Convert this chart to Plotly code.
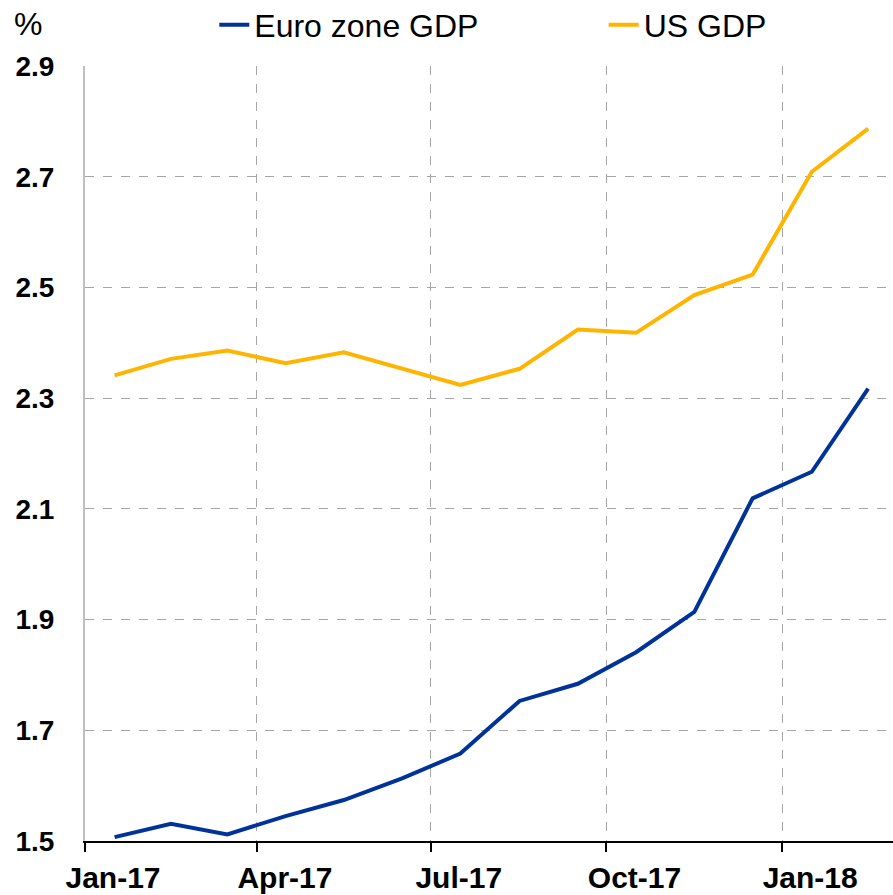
"""
Consensus GDP growth forecasts for 2018: euro zone vs US.
"""
import plotly.graph_objects as go

# Data (monthly survey, Jan-17 .. Feb-18)
MONTHS = [
    "2017-01", "2017-02", "2017-03", "2017-04", "2017-05", "2017-06", "2017-07",
    "2017-08", "2017-09", "2017-10", "2017-11", "2017-12", "2018-01", "2018-02",
]
EURO_GDP = [1.507, 1.531, 1.512, 1.545, 1.574, 1.613, 1.658,
            1.753, 1.784, 1.841, 1.914, 2.119, 2.167, 2.317]
US_GDP = [2.341, 2.371, 2.386, 2.363, 2.383, 2.354, 2.324,
          2.353, 2.424, 2.418, 2.486, 2.523, 2.709, 2.787]
Y_TICKS = [1.5, 1.7, 1.9, 2.1, 2.3, 2.5, 2.7, 2.9]
X_TICKS = ["2017-01-01", "2017-04-01", "2017-07-01", "2017-10-01", "2018-01-01"]
X_LABELS = ["Jan-17", "Apr-17", "Jul-17", "Oct-17", "Jan-18"]

# Theme
FONT = "Liberation Sans, Arial, sans-serif"
COLORS = {"euro": "#003399", "us": "#FFB400"}
GRID = "#a6a6a6"


def _legend(x: float) -> dict:
    return dict(
        orientation="h", xref="container", yref="container",
        x=x, xanchor="left", y=0.972, yanchor="middle",
        font=dict(size=32, family=FONT), bgcolor="rgba(0,0,0,0)",
        borderwidth=0, itemwidth=30,
    )


fig = go.Figure()
series = [
    ("Euro zone GDP", EURO_GDP, "euro", "legend"),
    ("US GDP", US_GDP, "us", "legend2"),
]
for name, vals, key, leg in series:
    fig.add_trace(go.Scatter(
        x=MONTHS, y=vals, name=name, mode="lines", legend=leg,
        xperiod="M1", xperiodalignment="middle",
        line=dict(color=COLORS[key], width=4),
    ))

fig.update_layout(
    width=893,
    height=895,
    paper_bgcolor="white",
    plot_bgcolor="white",
    margin=dict(l=85, r=0, t=66, b=54, autoexpand=False),
    font=dict(family=FONT, color="black"),
    showlegend=True,
    legend=_legend(0.240),
    legend2=_legend(0.676),
    annotations=[dict(
        text="%", xref="paper", yref="paper", x=-0.090, y=1.054,
        xanchor="left", yanchor="middle", showarrow=False,
        font=dict(size=32),
    )],
)

fig.update_xaxes(
    type="date",
    range=["2017-01-01", "2018-02-28"],
    tickvals=X_TICKS,
    ticktext=X_LABELS,
    ticks="outside", ticklen=9, tickcolor="black", tickwidth=1.5,
    ticklabelshift=28, ticklabelstandoff=0,
    tickfont=dict(size=30, family=FONT, weight="bold"),
    showline=True, linecolor="black", linewidth=1.5,
    showgrid=True, gridcolor=GRID, griddash="dash", gridwidth=1,
    zeroline=False, automargin=False,
)
fig.update_yaxes(
    range=[1.5, 2.9],
    tickvals=Y_TICKS,
    tickformat=".1f",
    ticks="", ticklabelstandoff=23,
    tickfont=dict(size=28, family=FONT, weight="bold"),
    showline=True, linecolor="#bfbfbf", linewidth=2,
    showgrid=True, gridcolor=GRID, griddash="dash", gridwidth=1,
    zeroline=False, automargin=False,
)

# drop the default 8px body margin so the figure fills the window exactly
fig.write_html(
    "out.html",
    config={"displayModeBar": False},
    post_script="document.body.style.margin='0';",
)
